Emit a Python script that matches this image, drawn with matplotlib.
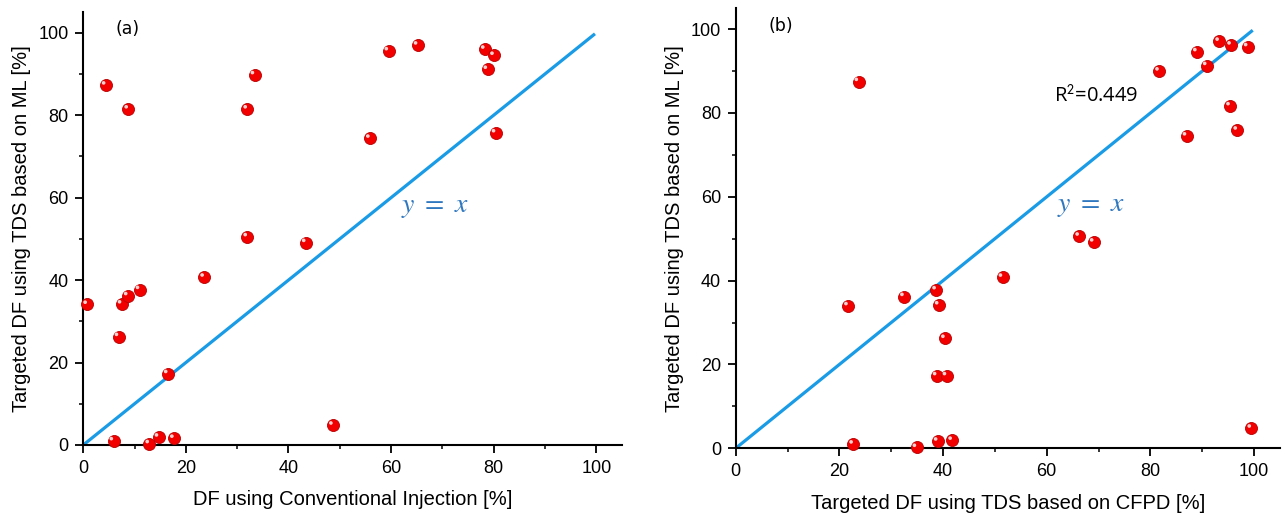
import matplotlib
matplotlib.use("Agg")
import matplotlib.pyplot as plt
import matplotlib.transforms as mtransforms
from matplotlib.ticker import MultipleLocator

plt.rcParams['font.family'] = ['Liberation Sans', 'DejaVu Sans']
plt.rcParams['mathtext.fontset'] = 'stix'

# panel (a): conventional injection vs ML
ci_x = [4.4, 8.8, 33.4, 32.0, 55.9, 32.0, 43.4, 59.5, 65.2, 78.3, 80.1, 78.8, 80.4,
        0.8, 7.5, 8.7, 11.0, 23.6, 6.9, 16.5, 5.9, 12.9, 14.7, 17.7, 48.7]
ml_a = [87.3, 81.5, 89.8, 81.5, 74.4, 50.5, 49.1, 95.6, 97.0, 96.0, 94.5, 91.1, 75.7,
        34.1, 34.2, 36.2, 37.7, 40.7, 26.3, 17.3, 1.0, 0.3, 1.9, 1.6, 4.8]

# panel (b): CFPD vs ML
cfpd_x = [23.7, 81.7, 89.0, 93.3, 95.6, 98.8, 90.9, 95.4, 96.8, 87.0, 66.3, 69.1,
          21.7, 32.5, 38.7, 39.2, 40.4, 38.8, 40.7, 22.7, 34.9, 39.0, 41.8, 51.5, 99.5]
ml_b = [87.5, 90.0, 94.6, 97.1, 96.2, 95.8, 91.3, 81.7, 75.9, 74.5, 50.6, 49.2,
        34.0, 36.2, 37.8, 34.2, 26.2, 17.3, 17.3, 1.0, 0.2, 1.7, 1.9, 40.8, 4.8]

diag = [0, 99.5]
ticks = [0, 20, 40, 60, 80, 100]

fig = plt.figure(figsize=(12.85, 5.19), dpi=100)
ax_a = fig.add_axes([0.0648, 0.1426, 0.4192, 0.834])
ax_b = fig.add_axes([0.5725, 0.1362, 0.4236, 0.848])


def style(ax, xlabel):
    ax.set_xlim(0, 105)
    ax.set_ylim(0, 105)
    for s in ['top', 'right']:
        ax.spines[s].set_visible(False)
    for s in ['left', 'bottom']:
        ax.spines[s].set_linewidth(1.5)
    ax.set_xticks(ticks)
    ax.set_yticks(ticks)
    ax.xaxis.set_minor_locator(MultipleLocator(10))
    ax.yaxis.set_minor_locator(MultipleLocator(10))
    ax.tick_params(which='major', length=5.5, width=1.3, labelsize=13, pad=5)
    ax.tick_params(which='minor', length=3, width=1.1)
    ax.set_xlabel(xlabel, fontsize=14.5, labelpad=10)
    ax.set_ylabel('Targeted DF using TDS based on ML [%]', fontsize=14.5, labelpad=5)


def spheres(ax, x, y):
    ax.scatter(x, y, s=75, color='#f20000', edgecolors='#b80000', linewidths=0.6,
               zorder=3, clip_on=False)
    shine = mtransforms.offset_copy(ax.transData, fig=fig, x=-1.6, y=1.6, units='points')
    ax.scatter(x, y, s=7, color='#ffd0d0', edgecolors='none', zorder=4,
               transform=shine, clip_on=False)


for ax, x, y, lab, xl in [(ax_a, ci_x, ml_a, '(a)', 'DF using Conventional Injection [%]'),
                          (ax_b, cfpd_x, ml_b, '(b)', 'Targeted DF using TDS based on CFPD [%]')]:
    style(ax, xl)
    ax.plot(diag, diag, color='#1a9be6', lw=2.3, zorder=2)
    spheres(ax, x, y)
    ax.text(6.3, 100.8, lab, fontsize=12.5, va='center', family=['DejaVu Sans'])
    ax.text(68.5, 57.8, '$y\\ =\\ x$', fontsize=20, color='#2f78c0',
            ha='center', va='center')

ax_b.text(61.4, 84.0, 'R$^{\\mathsf{2}}$=0.449', fontsize=14.5, va='center',
          family=['Open Sans', 'DejaVu Sans'])

fig.savefig('out.png', dpi=100)
